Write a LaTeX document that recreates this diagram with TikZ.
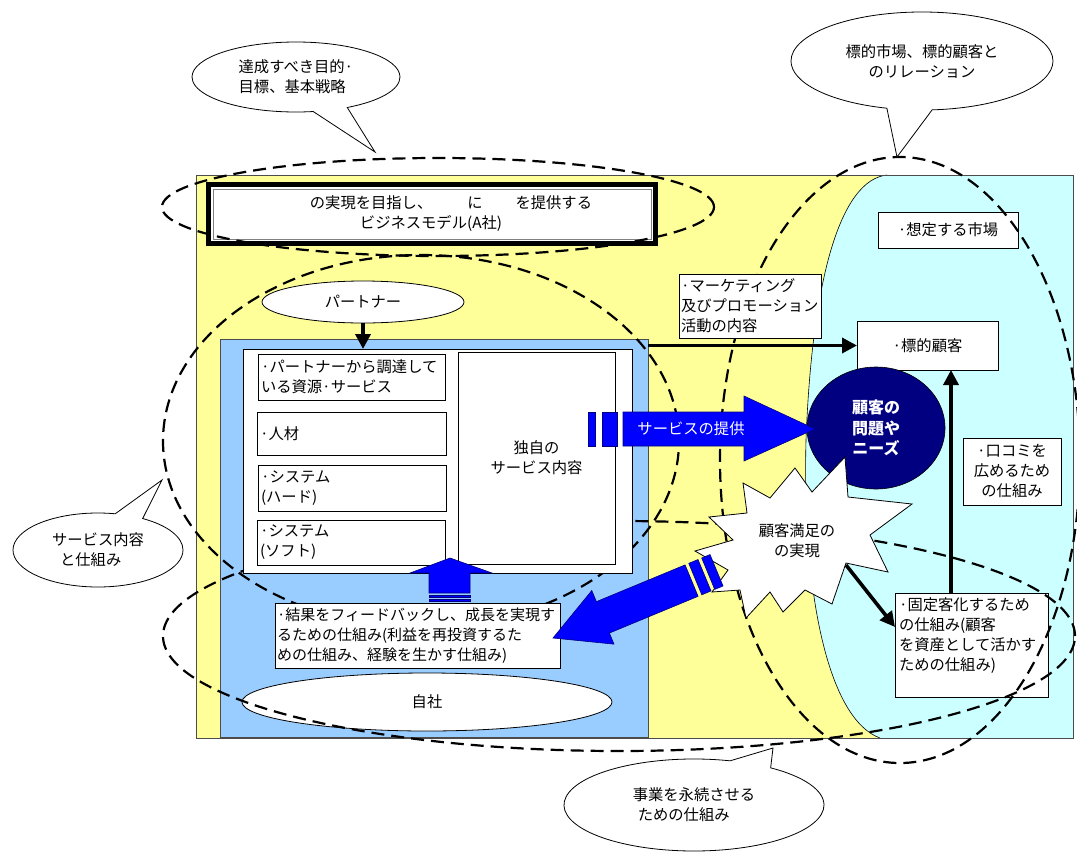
\documentclass[tikz,border=0pt]{standalone}
\usepackage{fontspec}
\setmainfont{Noto Sans CJK JP}
\usetikzlibrary{arrows.meta,shapes.callouts,shapes.geometric}
\definecolor{bgyellow}{HTML}{FFFF99}
\definecolor{bgcyan}{HTML}{CCFFFF}
\definecolor{selfblue}{HTML}{99CCFF}
\definecolor{arrowblue}{HTML}{0000FF}
\definecolor{navyblue}{HTML}{000080}
\newcommand{\jfs}{\fontsize{15.3}{20}\selectfont}
\begin{document}
\begin{tikzpicture}[x=1pt,y=-1pt,
  every node/.style={font=\jfs, inner sep=0pt, outer sep=0pt},
  box/.style={draw=black, line width=0.8pt, fill=white, rectangle, anchor=north west},
  dashring/.style={draw=black, line width=2.2pt, dash pattern=on 13pt off 7pt},
  thickarrow/.style={draw=black, line width=3.6pt, -{Triangle[length=15pt,width=15pt]}},
  bluearrow/.style={fill=arrowblue, draw=navyblue, line width=0.6pt, line join=miter},
  bubble/.style={ellipse callout, draw=black, line width=0.8pt, fill=white, callout pointer arc=20},
  ]
\useasboundingbox (0,0) rectangle (1077,852);
\fill[white] (0,0) rectangle (1077,852);

% background regions
\fill[bgyellow] (196,175) rectangle (1073,738);
\fill[bgcyan] (887,175) .. controls (840,180) and (812,280) .. (806,440) .. controls (802,600) and (830,720) .. (880,738) -- (1073,738) -- (1073,175) -- cycle;
\draw[black, line width=0.6pt] (887,175) .. controls (840,180) and (812,280) .. (806,440) .. controls (802,600) and (830,720) .. (880,738);
\draw[gray!60!black, line width=0.8pt] (196,175) rectangle (1073,738);

\node[box, draw=gray!60!black, fill=selfblue, minimum width=428pt, minimum height=398pt] (self) at (220,339) {};

\node[draw=black, line width=0.8pt, fill=white, ellipse, minimum width=370pt, minimum height=58pt] (jisha) at (427,702) {自社};

\node[box, minimum width=153pt, minimum height=104pt] (kotei) at (895,593) {};
\node[anchor=north west, align=left] (koteitext) at (899,598) {·固定客化するため\\の仕組み(顧客\\を資産として活かす\\ための仕組み)};

\node[box, minimum width=140pt, minimum height=36pt] (soutei) at (878,212) {·想定する市場};

% dashed groupings
\draw[dashring] (421,441) ellipse [x radius=258pt, y radius=186pt];
\draw[dashring] (619,636) ellipse [x radius=456pt, y radius=115pt];
\draw[dashring] (900,460) ellipse [x radius=180pt, y radius=303pt];

% own company contents
\node[box, minimum width=389pt, minimum height=224pt] (inner) at (243,349) {};
\node[box, minimum width=187pt, minimum height=46pt, text width=181pt, align=left] (r1) at (258,354) {·パートナーから調達して\\いる資源·サービス};
\node[box, minimum width=189pt, minimum height=43pt, text width=183pt, align=left] (r2) at (257,412) {·人材};
\node[box, minimum width=188pt, minimum height=46pt, text width=182pt, align=left] (r3) at (258,465) {·システム\\(ハード)};
\node[box, minimum width=188pt, minimum height=45pt, text width=182pt, align=left] (r4) at (257,520) {·システム\\(ソフト)};
\node[box, minimum width=157pt, minimum height=212pt, align=center] (uniq) at (458,352) {独自の\\サービス内容};

\node[draw=black, line width=0.8pt, fill=white, ellipse, minimum width=202pt, minimum height=42pt] (partner) at (363,302) {パートナー};
\draw[thickarrow] (partner.south) -- (partner.south |- inner.north);

\node[box, minimum width=285pt, minimum height=65pt, text width=281pt, align=left, font=\fontsize{15}{20}\selectfont] (fb) at (275,603) {·結果をフィードバックし、成長を実現す\\るための仕組み(利益を再投資するた\\めの仕組み、経験を生かす仕組み)};

% upward blue arrow
\filldraw[bluearrow] (450,558) -- (492,573) -- (470,573) -- (470,593) -- (429,593) -- (429,573) -- (410,573) -- cycle;
\filldraw[bluearrow] (429,595) rectangle (470,597);
\filldraw[bluearrow] (429,599) rectangle (470,601);

% title
\node[box, line width=5pt, minimum width=447pt, minimum height=59pt] (title) at (208.5,184.5) {};
\draw[gray, line width=1pt] ([xshift=4.5pt,yshift=-4.5pt]title.north west) rectangle ([xshift=-4.5pt,yshift=4.5pt]title.south east);
\node[align=center] (titletext) at (431,214) {\hspace*{40pt}の実現を目指し、\hspace{35pt}に\hspace{33pt}を提供する\\ビジネスモデル(A社)};
\draw[dashring] (438,207) ellipse [x radius=276pt, y radius=49pt];

% market side
\node[box, minimum width=142pt, minimum height=64pt, text width=138pt, align=left] (mkt) at (679,274) {·マーケティング\\及びプロモーション\\活動の内容};
\node[box, minimum width=141pt, minimum height=49pt] (tk) at (857,321) {·標的顧客};
\node[box, minimum width=98pt, minimum height=67pt, align=center] (kuchi) at (963,438) {·口コミを\\広めるため\\の仕組み};
\node[ellipse, fill=navyblue, draw=black, line width=0.6pt, minimum width=138pt, minimum height=122pt, text=white, font=\fontsize{16}{20.5}\selectfont\bfseries, align=center] (needs) at (876,428) {顧客の\\問題や\\ニーズ};

\draw[thickarrow] (self.north east |- tk.west) -- (tk.west);

% service arrow
\filldraw[bluearrow] (588,412) rectangle (595,446);
\filldraw[bluearrow] (602,412) rectangle (617,446);
\filldraw[bluearrow] (623,412) -- (744,412) -- (744,396) -- (815,429) -- (744,461) -- (744,446) -- (623,446) -- cycle;
\node[text=white] (svc) at (691,429) {サービスの提供};

% satisfaction starburst
\filldraw[fill=white, draw=black, line width=0.8pt] (743,483) -- (770,498) -- (795,468) -- (812,492) -- (845,457) -- (848,497) -- (912,504) -- (870,535) -- (888,572) -- (846,563) -- (832,604) -- (805,590) -- (783,612) -- (770,592) -- (746,618) -- (740,590) -- (712,592) -- (728,570) -- (695,551) -- (733,540) -- (709,517) -- (747,513) -- cycle;
\node[align=center] (sat) at (797,541) {顧客満足の\\の実現};
\coordinate (satout) at (846,565);

% feedback arrow
\begin{scope}[shift={(553,638)}, rotate=22.5]
  \filldraw[bluearrow] (0,0) -- (54,29) -- (54,17) -- (150,17) -- (150,-17) -- (54,-17) -- (54,-29) -- cycle;
  \filldraw[bluearrow] (154,-17) rectangle (164,17);
  \filldraw[bluearrow] (168,-17) rectangle (177,17);
\end{scope}

\draw[thickarrow] (satout) -- ([yshift=-34pt]kotei.north west);
\draw[thickarrow] ([xshift=56pt]kotei.north west) -- ([xshift=56pt]kotei.north west |- tk.south);

% callouts
\node[bubble, minimum width=208pt, minimum height=70pt, align=left, callout absolute pointer={(375,152)}] (b1) at (296,77) {達成すべき目的·\\目標、基本戦略};
\node[bubble, minimum width=262pt, minimum height=98pt, align=center, callout absolute pointer={(897,157)}] (b2) at (922,61) {標的市場、標的顧客と\\のリレーション};
\node[bubble, minimum width=170pt, minimum height=74pt, align=left, callout absolute pointer={(162,480)}] (b3) at (98,550) {サービス内容\\\hspace*{8pt}と仕組み};
\node[bubble, minimum width=260pt, minimum height=92pt, align=left, callout absolute pointer={(773,748)}] (b4) at (694,805) {事業を永続させる\\\hspace*{5pt}ための仕組み};
\end{tikzpicture}
\end{document}
